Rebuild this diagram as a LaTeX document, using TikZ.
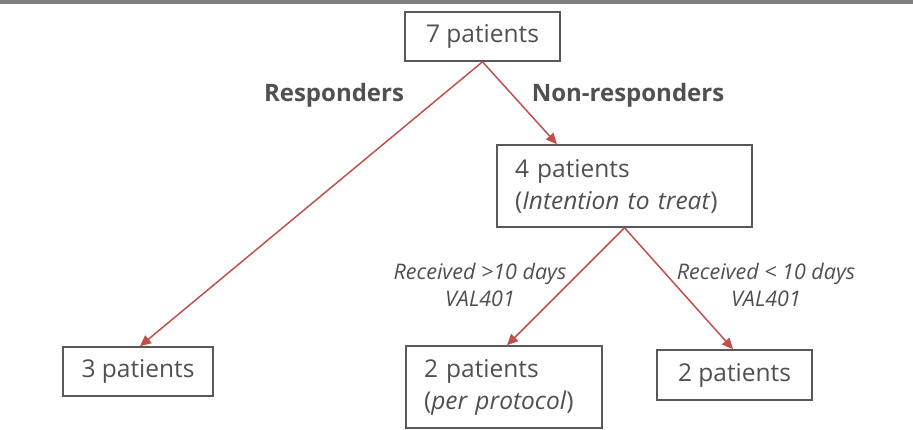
\documentclass[tikz,border=0pt]{standalone}
\usepackage{fontspec}
\setmainfont{Open Sans}
\usetikzlibrary{arrows.meta}
\definecolor{boxgray}{HTML}{595959}
\definecolor{txtgray}{HTML}{505050}
\definecolor{arrred}{HTML}{C0504D}
\definecolor{bandgray}{HTML}{808080}
\begin{document}
\begin{tikzpicture}[x=1pt,y=-1pt,
  box/.style={draw=boxgray, line width=1.6pt, text=txtgray, inner sep=0pt, font=\fontsize{24.5}{32}\selectfont},
  arr/.style={draw=arrred, line width=1.5pt, -{Triangle[length=11pt,width=10pt]}},
  lbl/.style={text=txtgray, font=\fontsize{24}{26}\bfseries\selectfont, inner sep=0pt},
  ilbl/.style={text=txtgray, font=\fontsize{21.5}{27}\itshape\selectfont, align=center, inner sep=0pt}]
\useasboundingbox (0,0) rectangle (913,430);
\fill[bandgray] (0,0) rectangle (913,4);

\node[box, minimum width=155pt, minimum height=49pt] (n7) at (482.5,36.5) {7 patients};
\node[box, minimum width=255pt, minimum height=82pt, text width=219pt, align=left] (n4) at (624.5,186) {4 patients\\(\textit{Intention to treat})};
\node[box, minimum width=150pt, minimum height=49pt] (n3) at (138,371.5) {3 patients};
\node[box, minimum width=196pt, minimum height=82pt, text width=160pt, align=left] (npp) at (504,387) {2 patients\\(\textit{per protocol})};
\node[box, minimum width=155pt, minimum height=50pt] (n2r) at (734.5,375) {2 patients};

\node[lbl] (lr) at (334,95) {Responders};
\node[lbl] (lnr) at (628,95) {Non-responders};
\node[ilbl] (lgt) at (480,284.5) {Received >10 days\\VAL401};
\node[ilbl] (llt) at (766,284.5) {Received < 10 days\\VAL401};

\draw[arr] (n7.south) -- ([xshift=2pt]n3.north);
\draw[arr] (n7.south) -- ([xshift=-67.5pt]n4.north);
\draw[arr] (n4.south) -- ([xshift=3pt]npp.north);
\draw[arr] (n4.south) -- ([xshift=-1.5pt]n2r.north);
\end{tikzpicture}
\end{document}
